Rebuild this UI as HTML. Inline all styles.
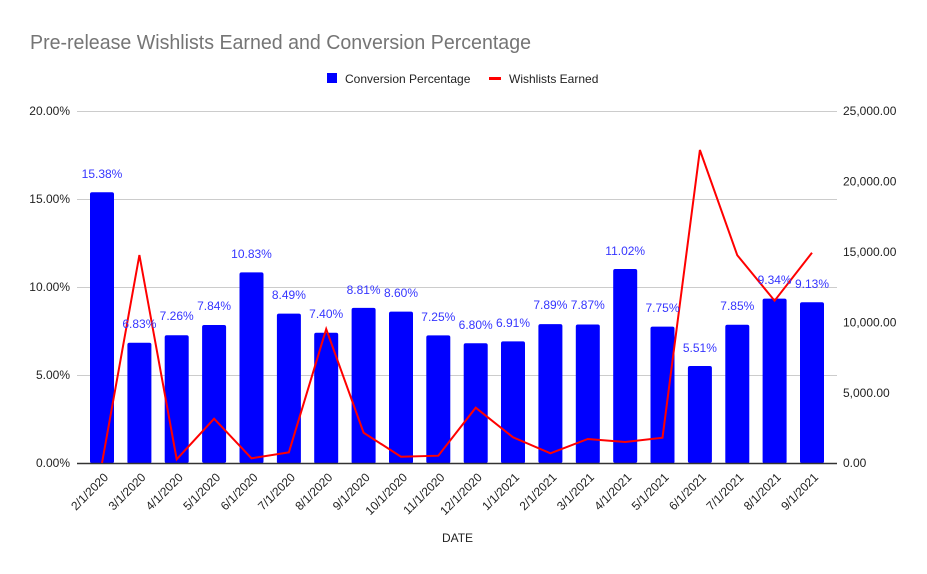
<!DOCTYPE html>
<html><head><meta charset="utf-8"><style>
html,body{margin:0;padding:0;background:#fff;}
svg{display:block;font-family:"Liberation Sans",Arial,sans-serif;}
</style></head><body>
<svg width="927" height="574" viewBox="0 0 927 574" xmlns="http://www.w3.org/2000/svg">
<rect width="927" height="574" fill="#fff"/>
<text x="30" y="49" font-size="20" fill="#757575" textLength="501" lengthAdjust="spacingAndGlyphs">Pre-release Wishlists Earned and Conversion Percentage</text>
<rect x="327" y="73" width="10" height="10" fill="#0000ff"/>
<text x="345" y="83" font-size="12" fill="#222">Conversion Percentage</text>
<rect x="489" y="77" width="12" height="3" fill="#ff0000"/>
<text x="509" y="83" font-size="12" fill="#222">Wishlists Earned</text>
<g stroke="#cccccc" stroke-width="1">
<line x1="77" y1="111.5" x2="837" y2="111.5"/>
<line x1="77" y1="199.5" x2="837" y2="199.5"/>
<line x1="77" y1="287.5" x2="837" y2="287.5"/>
<line x1="77" y1="375.5" x2="837" y2="375.5"/>
</g>
<g font-size="12" fill="#222" text-anchor="end">
<text x="70" y="115">20.00%</text>
<text x="70" y="203">15.00%</text>
<text x="70" y="291">10.00%</text>
<text x="70" y="379">5.00%</text>
<text x="70" y="467">0.00%</text>
</g>
<g font-size="12" fill="#222">
<text x="843" y="115">25,000.00</text>
<text x="843" y="185.5">20,000.00</text>
<text x="843" y="256">15,000.00</text>
<text x="843" y="326.5">10,000.00</text>
<text x="843" y="397">5,000.00</text>
<text x="843" y="467">0.00</text>
</g>
<g fill="#0000ff">
<rect x="90" y="192.3" width="24" height="271" rx="2"/>
<rect x="127.4" y="342.8" width="24" height="121" rx="2"/>
<rect x="164.7" y="335.2" width="24" height="128" rx="2"/>
<rect x="202.1" y="325" width="24" height="138" rx="2"/>
<rect x="239.5" y="272.4" width="24" height="191" rx="2"/>
<rect x="276.9" y="313.6" width="24" height="150" rx="2"/>
<rect x="314.2" y="332.8" width="24" height="131" rx="2"/>
<rect x="351.6" y="307.9" width="24" height="156" rx="2"/>
<rect x="389" y="311.6" width="24" height="152" rx="2"/>
<rect x="426.3" y="335.4" width="24" height="128" rx="2"/>
<rect x="463.7" y="343.3" width="24" height="120" rx="2"/>
<rect x="501" y="341.4" width="24" height="122" rx="2"/>
<rect x="538.4" y="324.1" width="24" height="139" rx="2"/>
<rect x="575.8" y="324.5" width="24" height="139" rx="2"/>
<rect x="613.2" y="269.0" width="24" height="194" rx="2"/>
<rect x="650.5" y="326.6" width="24" height="137" rx="2"/>
<rect x="687.9" y="366.0" width="24" height="97" rx="2"/>
<rect x="725.3" y="324.8" width="24" height="139" rx="2"/>
<rect x="762.6" y="298.6" width="24" height="165" rx="2"/>
<rect x="800" y="302.3" width="24" height="161" rx="2"/>
</g>
<line x1="77" y1="463.5" x2="837" y2="463.5" stroke="#333" stroke-width="1.5"/>
<polyline fill="none" stroke="#ff0000" stroke-width="2" stroke-linejoin="miter" points="102,463 139.4,255 176.7,459.3 214.1,418.7 251.5,458.3 288.9,452.3 326.2,329 363.6,432.7 401,456.7 438.3,455.7 475.7,407.7 513,437.3 550.4,453.3 587.8,439 625.2,442 662.5,437.7 699.9,150 737.3,255.3 774.6,300.7 812,252.7"/>
<g font-size="12" fill="#3535ff" text-anchor="middle">
<text x="102" y="178">15.38%</text>
<text x="139.4" y="328">6.83%</text>
<text x="176.7" y="320">7.26%</text>
<text x="214.1" y="310">7.84%</text>
<text x="251.5" y="258">10.83%</text>
<text x="288.9" y="299">8.49%</text>
<text x="326.2" y="318">7.40%</text>
<text x="363.6" y="294">8.81%</text>
<text x="401" y="297">8.60%</text>
<text x="438.3" y="321">7.25%</text>
<text x="475.7" y="329">6.80%</text>
<text x="513" y="327">6.91%</text>
<text x="550.4" y="309">7.89%</text>
<text x="587.8" y="309">7.87%</text>
<text x="625.2" y="255">11.02%</text>
<text x="662.5" y="312">7.75%</text>
<text x="699.9" y="352">5.51%</text>
<text x="737.3" y="310">7.85%</text>
<text x="774.6" y="284">9.34%</text>
<text x="812" y="288">9.13%</text>
</g>
<g font-size="12" fill="#222" text-anchor="end">
<text transform="translate(109,478) rotate(-45)">2/1/2020</text>
<text transform="translate(146.4,478) rotate(-45)">3/1/2020</text>
<text transform="translate(183.7,478) rotate(-45)">4/1/2020</text>
<text transform="translate(221.1,478) rotate(-45)">5/1/2020</text>
<text transform="translate(258.5,478) rotate(-45)">6/1/2020</text>
<text transform="translate(295.9,478) rotate(-45)">7/1/2020</text>
<text transform="translate(333.2,478) rotate(-45)">8/1/2020</text>
<text transform="translate(370.6,478) rotate(-45)">9/1/2020</text>
<text transform="translate(408,478) rotate(-45)">10/1/2020</text>
<text transform="translate(445.3,478) rotate(-45)">11/1/2020</text>
<text transform="translate(482.7,478) rotate(-45)">12/1/2020</text>
<text transform="translate(520,478) rotate(-45)">1/1/2021</text>
<text transform="translate(557.4,478) rotate(-45)">2/1/2021</text>
<text transform="translate(594.8,478) rotate(-45)">3/1/2021</text>
<text transform="translate(632.2,478) rotate(-45)">4/1/2021</text>
<text transform="translate(669.5,478) rotate(-45)">5/1/2021</text>
<text transform="translate(706.9,478) rotate(-45)">6/1/2021</text>
<text transform="translate(744.3,478) rotate(-45)">7/1/2021</text>
<text transform="translate(781.6,478) rotate(-45)">8/1/2021</text>
<text transform="translate(819,478) rotate(-45)">9/1/2021</text>
</g>
<text x="457.5" y="542" font-size="12" fill="#222" text-anchor="middle">DATE</text>
</svg>
</body></html>
